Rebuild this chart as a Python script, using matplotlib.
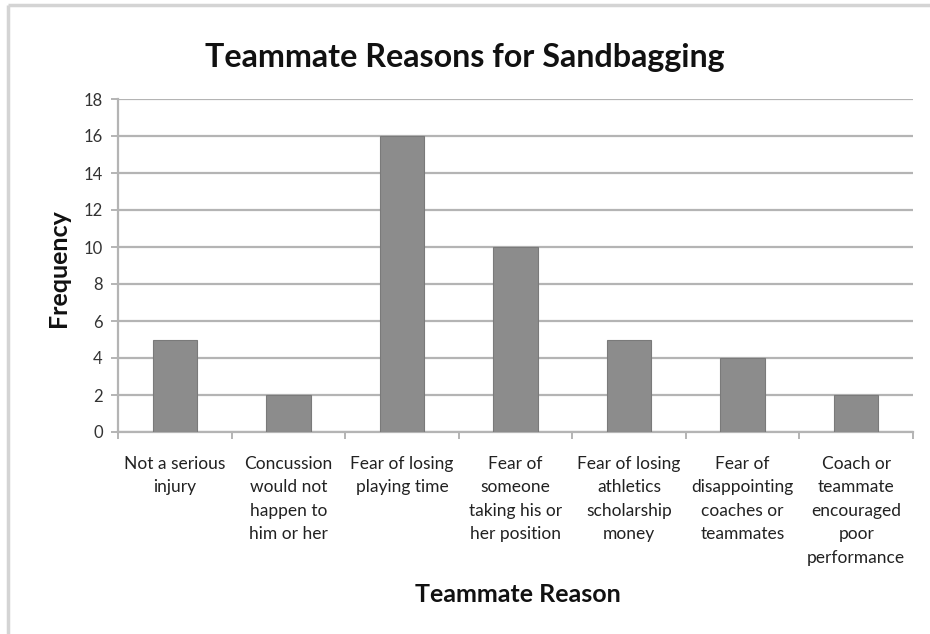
import matplotlib
matplotlib.use("Agg")
import matplotlib.pyplot as plt
from matplotlib.lines import Line2D
import numpy as np

plt.rcParams['font.family'] = ['Lato', 'DejaVu Sans']

categories = [
    "Not a serious\ninjury",
    "Concussion\nwould not\nhappen to\nhim or her",
    "Fear of losing\nplaying time",
    "Fear of\nsomeone\ntaking his or\nher position",
    "Fear of losing\nathletics\nscholarship\nmoney",
    "Fear of\ndisappointing\ncoaches or\nteammates",
    "Coach or\nteammate\nencouraged\npoor\nperformance",
]
frequency = [5, 2, 16, 10, 5, 4, 2]
y_ticks = [0, 2, 4, 6, 8, 10, 12, 14, 16, 18]

title = "Teammate Reasons for Sandbagging"
x_label = "Teammate Reason"
y_label = "Frequency"

W, H = 930, 634
fig = plt.figure(figsize=(W / 100, H / 100), dpi=100)
fig.patch.set_facecolor("white")

# outer frame (left and top edges only visible)
frame_col = "#d4d4d4"
fig.add_artist(Line2D([8 / W, 8 / W], [0, 1 - 5 / H], transform=fig.transFigure,
                      color=frame_col, lw=2.5, solid_capstyle="butt"))
fig.add_artist(Line2D([8 / W, 1], [1 - 5 / H, 1 - 5 / H], transform=fig.transFigure,
                      color=frame_col, lw=2.5, solid_capstyle="butt"))

left, right, bottom, top = 118 / W, 913 / W, 1 - 432 / H, 1 - 99 / H
ax = fig.add_axes([left, bottom, right - left, top - bottom])

x = np.arange(len(categories))
ax.bar(x, frequency, width=0.39, color="#8c8c8c", edgecolor="#7a7a7a",
       linewidth=0.8, zorder=3)

grid_col = "#b4b4b4"
ax.set_xlim(-0.5, len(categories) - 0.5)
ax.set_ylim(0, 18)
ax.set_yticks(y_ticks)
ax.yaxis.grid(True, color=grid_col, lw=1.6, zorder=0)
ax.set_axisbelow(True)

for s in ["top", "right"]:
    ax.spines[s].set_visible(False)
for s in ["left", "bottom"]:
    ax.spines[s].set_color(grid_col)
    ax.spines[s].set_linewidth(1.6)

ax.tick_params(axis="y", length=5, width=1.4, color=grid_col, labelsize=12,
               labelcolor="#333333", pad=6)
ax.set_xticks(x)
ax.set_xticklabels(categories, fontsize=12.5, color="#222222", linespacing=1.58,
                   va="top")
ax.set_xticks(np.arange(-0.5, len(categories), 1.0), minor=True)
ax.tick_params(axis="x", which="major", length=0, pad=17)
ax.tick_params(axis="x", which="minor", length=5, width=1.4, color=grid_col)

fig.text(0.5, 1 - 57 / H, title, ha="center", va="center", fontsize=23.2,
         fontweight="bold", color="#111111")
fig.text(58 / W, 1 - 268 / H, y_label, ha="center", va="center", rotation=90,
         fontsize=18, fontweight="bold", color="#111111")
fig.text(518 / W, 1 - 595 / H, x_label, ha="center", va="center",
         fontsize=18, fontweight="bold", color="#111111")

fig.savefig("out.png", dpi=100, facecolor="white")
